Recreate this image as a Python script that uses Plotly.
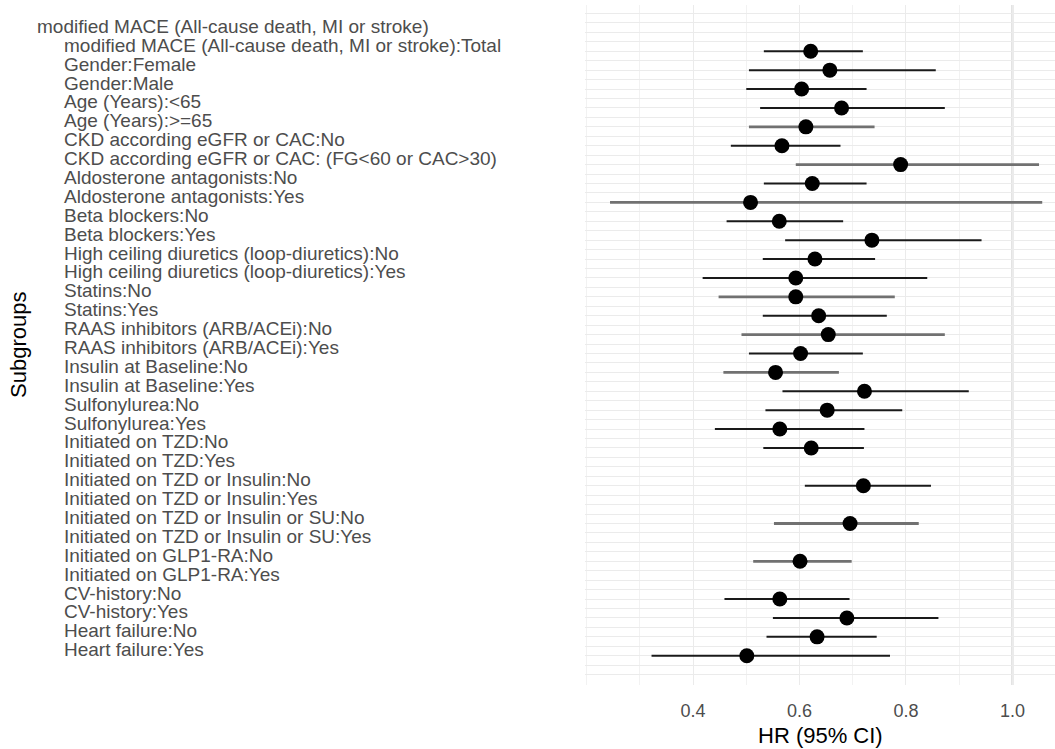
import plotly.graph_objects as go

# Subgroup rows, top to bottom (first row is the outcome header)
labels = [
    "modified MACE (All-cause death, MI or stroke)",
    "modified MACE (All-cause death, MI or stroke):Total",
    "Gender:Female",
    "Gender:Male",
    "Age (Years):<65",
    "Age (Years):>=65",
    "CKD according eGFR or CAC:No",
    "CKD according eGFR or CAC: (FG<60 or CAC>30)",
    "Aldosterone antagonists:No",
    "Aldosterone antagonists:Yes",
    "Beta blockers:No",
    "Beta blockers:Yes",
    "High ceiling diuretics (loop-diuretics):No",
    "High ceiling diuretics (loop-diuretics):Yes",
    "Statins:No",
    "Statins:Yes",
    "RAAS inhibitors (ARB/ACEi):No",
    "RAAS inhibitors (ARB/ACEi):Yes",
    "Insulin at Baseline:No",
    "Insulin at Baseline:Yes",
    "Sulfonylurea:No",
    "Sulfonylurea:Yes",
    "Initiated on TZD:No",
    "Initiated on TZD:Yes",
    "Initiated on TZD or Insulin:No",
    "Initiated on TZD or Insulin:Yes",
    "Initiated on TZD or Insulin or SU:No",
    "Initiated on TZD or Insulin or SU:Yes",
    "Initiated on GLP1-RA:No",
    "Initiated on GLP1-RA:Yes",
    "CV-history:No",
    "CV-history:Yes",
    "Heart failure:No",
    "Heart failure:Yes",
]

hr = [None, 0.621, 0.657, 0.604, 0.679, 0.612, 0.567, 0.790, 0.624, 0.508,
      0.562, 0.736, 0.629, 0.593, 0.593, 0.636, 0.654, 0.602, 0.555, 0.722,
      0.652, 0.563, 0.622, None, 0.720, None, 0.695, None, 0.601, None,
      0.563, 0.689, 0.633, 0.501]
ci_low = [None, 0.533, 0.505, 0.500, 0.526, 0.505, 0.471, 0.593, 0.533, 0.244,
          0.463, 0.573, 0.531, 0.418, 0.448, 0.531, 0.491, 0.505, 0.457, 0.568,
          0.536, 0.441, 0.532, None, 0.610, None, 0.552, None, 0.513, None,
          0.459, 0.550, 0.538, 0.322]
ci_high = [None, 0.719, 0.856, 0.726, 0.873, 0.741, 0.677, 1.050, 0.726, 1.056,
           0.682, 0.942, 0.742, 0.840, 0.779, 0.764, 0.873, 0.719, 0.674, 0.918,
           0.793, 0.722, 0.721, None, 0.847, None, 0.824, None, 0.698, None,
           0.694, 0.861, 0.745, 0.770]
# interval tone per row: "k" dark, "g" grey
tone = [None, "k", "k", "k", "k", "g", "k", "g", "k", "g",
        "k", "k", "k", "k", "g", "k", "g", "k", "g", "k",
        "k", "k", "k", None, "k", None, "g", None, "g", None,
        "k", "k", "k", "k"]

x_ticks = [0.4, 0.6, 0.8, 1.0]
x_tick_text = ["0.4", "0.6", "0.8", "1.0"]

FONT = "Arial, 'Liberation Sans', sans-serif"
W, H = 1055, 749
M_L, M_R, M_T, M_B = 585, 0, 5, 64
plot_w = W - M_L - M_R
plot_h = H - M_T - M_B

rows = list(range(len(labels)))

fig = go.Figure()

# confidence intervals, grouped by tone
styles = {"k": ("#1a1a1a", 2.0), "g": ("#717171", 2.8)}
for key, (col, wid) in styles.items():
    xs, ys = [], []
    for r in rows:
        if tone[r] == key and ci_low[r] is not None:
            xs += [ci_low[r], ci_high[r], None]
            ys += [r, r, None]
    fig.add_trace(go.Scatter(x=xs, y=ys, mode="lines",
                             line=dict(color=col, width=wid),
                             hoverinfo="skip", showlegend=False))

# point estimates
px_, py_ = [], []
for r in rows:
    if hr[r] is not None:
        px_.append(hr[r])
        py_.append(r)
fig.add_trace(go.Scatter(x=px_, y=py_, mode="markers",
                         marker=dict(color="black", size=15),
                         showlegend=False))

# reference line at HR = 1
fig.add_shape(type="line", xref="x", yref="paper", x0=1.0, x1=1.0, y0=0, y1=1,
              line=dict(color="#cfcfcf", width=2), layer="below")

# subgroup labels, left aligned
for r, lab in enumerate(labels):
    left_px = 35 if r == 0 else 62
    fig.add_annotation(x=(left_px - M_L) / plot_w, xref="paper", y=r, yref="y",
                       text=lab, showarrow=False, xanchor="left", yanchor="middle",
                       yshift=6, font=dict(family=FONT, size=19, color="#4d4d4d"))

# axis titles
fig.add_annotation(x=(18 - M_L) / plot_w, xref="paper", y=0.5, yref="paper",
                   text="Subgroups", textangle=-90, showarrow=False,
                   xanchor="center", yanchor="middle",
                   font=dict(family=FONT, size=22, color="black"))
fig.add_annotation(x=0.5, xref="paper", y=-(735 - (H - M_B)) / plot_h,
                   yref="paper", text="HR (95% CI)", showarrow=False,
                   xanchor="center", yanchor="middle",
                   font=dict(family=FONT, size=22, color="black"))

fig.update_xaxes(range=[0.197, 1.080], tickvals=x_ticks, ticktext=x_tick_text,
                 showgrid=True, gridcolor="#ebebeb", gridwidth=1,
                 minor=dict(dtick=0.1, tick0=0.1, showgrid=True,
                            gridcolor="#f2f2f2", gridwidth=1),
                 zeroline=False, showline=False, ticks="",
                 ticklabelstandoff=13,
                 tickfont=dict(family=FONT, size=18, color="#4d4d4d"))
fig.update_yaxes(range=[34.55, -1.45], tick0=-1, dtick=0.5, showticklabels=False,
                 showgrid=True, gridcolor="#ebebeb", gridwidth=1,
                 zeroline=False, showline=False, ticks="")

fig.update_layout(width=W, height=H,
                  margin=dict(l=M_L, r=M_R, t=M_T, b=M_B),
                  paper_bgcolor="white", plot_bgcolor="white",
                  showlegend=False, font=dict(family=FONT))

fig.write_html("out.html")
